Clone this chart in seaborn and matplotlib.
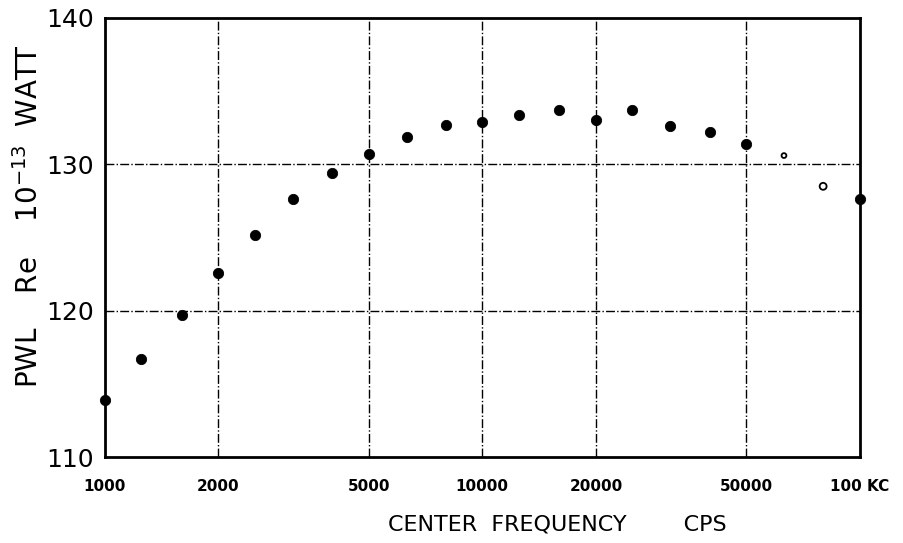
import matplotlib
matplotlib.use('Agg')
import matplotlib.pyplot as plt
import pandas as pd
import seaborn as sns

sns.set_style('white')
plt.rcParams['font.family'] = ['DejaVu Sans']
plt.rcParams['text.color'] = 'black'
plt.rcParams['axes.labelcolor'] = 'black'
plt.rcParams['xtick.color'] = 'black'
plt.rcParams['ytick.color'] = 'black'

# third-octave band centres, cps
freq_filled = [1000, 1250, 1600, 2000, 2500, 3150, 4000, 5000, 6300, 8000,
               10000, 12500, 16000, 20000, 25000, 31500, 40000, 50000, 100000]
pwl_filled = [113.9, 116.7, 119.7, 122.6, 125.2, 127.6, 129.4, 130.7, 131.9, 132.7,
              132.9, 133.4, 133.7, 133.0, 133.7, 132.6, 132.2, 131.4, 127.6]
freq_open = [63000, 80000]
pwl_open = [130.6, 128.5]

xticks = [1000, 2000, 5000, 10000, 20000, 50000, 100000]
xticklabels = ['1000', '2000', '5000', '10000', '20000', '50000', '100 KC']
yticks = [110, 120, 130, 140]

df_filled = pd.DataFrame({'Frequency': freq_filled, 'PWL': pwl_filled})
df_open = pd.DataFrame({'Frequency': freq_open, 'PWL': pwl_open})

fig = plt.figure(figsize=(9.04, 5.43), dpi=100)
ax = fig.add_axes([0.116, 0.158, 0.835, 0.809])

sns.scatterplot(x='Frequency', y='PWL', data=df_filled, ax=ax,
                color='black', s=55, edgecolor='black', zorder=3, clip_on=False)
sns.scatterplot(x='Frequency', y='PWL', data=df_open, ax=ax,
                color='white', s=[12, 25], edgecolor='black', linewidth=1.3,
                zorder=3, clip_on=False)

ax.set_xscale('log')
ax.set_xlim(1000, 100000)
ax.set_ylim(110, 140)

# dash-dot grid lines
for f in [2000, 5000, 10000, 20000, 50000]:
    ax.axvline(f, color='black', lw=1.0, ls='-.', zorder=1)
for v in [120, 130]:
    ax.axhline(v, color='black', lw=1.0, ls='-.', zorder=1)

ax.set_xticks(xticks)
ax.set_xticklabels(xticklabels, fontsize=11, fontweight='bold')
ax.minorticks_off()
ax.set_yticks(yticks)
ax.set_yticklabels([str(v) for v in yticks], fontsize=18)
ax.tick_params(axis='x', length=0, pad=16)
ax.tick_params(axis='y', length=0, pad=8)

for sp in ax.spines.values():
    sp.set_color('black')
    sp.set_linewidth(2)

ax.set_xlabel('CENTER  FREQUENCY        CPS', fontsize=16)
ax.xaxis.set_label_coords(0.6, -0.13)
ax.set_ylabel('PWL    Re    10$^{-13}$  WATT', fontsize=20)
ax.yaxis.set_label_coords(-0.08, 0.55)

fig.savefig('out.png', dpi=100)
